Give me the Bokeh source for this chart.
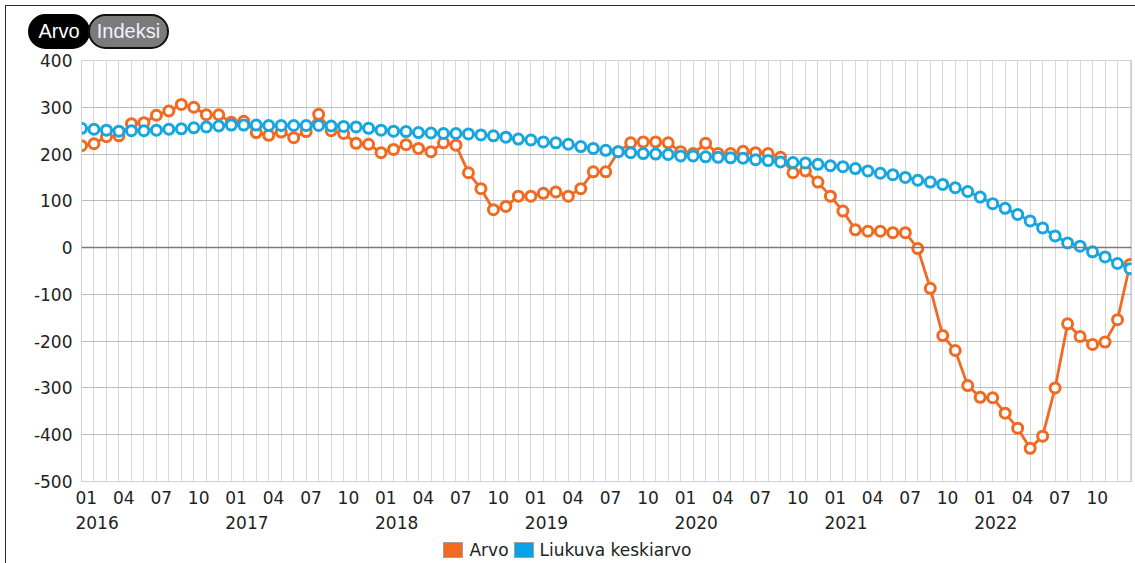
from bokeh.plotting import figure
from bokeh.models import Range1d, FixedTicker, Span, LinearAxis, Div
from bokeh.layouts import column
from bokeh.embed import file_html
from bokeh.resources import INLINE

years = [2016, 2017, 2018, 2019, 2020, 2021, 2022]
month_labels = ["01", "04", "07", "10"]
series_names = ["Arvo", "Liukuva keskiarvo"]

arvo = [218, 222, 237, 239, 265, 267, 283, 292, 306, 300, 284, 284,
        268, 270, 246, 240, 247, 235, 248, 285, 250, 244, 223, 221,
        203, 210, 220, 212, 205, 224, 219, 160, 126, 81, 88, 110,
        110, 116, 119, 110, 126, 162, 162, 205, 224, 226, 226, 224,
        205, 201, 223, 201, 201, 206, 203, 201, 193, 160, 164, 140,
        110, 78, 38, 35, 35, 32, 32, -2, -87, -188, -220, -295,
        -320, -321, -354, -386, -429, -403, -300, -163, -190, -207, -202, -154,
        -36]

liukuva = [255, 253, 251, 249, 250, 250, 251, 253, 254, 256, 258, 260,
           262, 262, 262, 261, 261, 261, 261, 261, 260, 259, 258, 255,
           251, 249, 248, 246, 245, 244, 244, 243, 241, 239, 236, 232,
           230, 226, 224, 221, 216, 212, 208, 205, 203, 201, 200, 199,
           196, 196, 194, 193, 192, 191, 188, 186, 183, 182, 181, 178,
           175, 173, 169, 164, 159, 156, 150, 144, 140, 135, 128, 120,
           108, 94, 84, 71, 57, 42, 25, 10, 3, -9, -20, -34,
           -45]

y_ticks = [-500, -400, -300, -200, -100, 0, 100, 200, 300, 400]

ORANGE = "#f26a22"
BLUE = "#17a7de"
FONT = "DejaVu Sans"
FS = "17px"

x = list(range(len(arvo)))

# whole chart sits inside a thin dark frame starting at (5, 5)
W = 1129

p = figure(width=W, height=486,
           x_range=Range1d(0, 84.12), y_range=Range1d(-500, 400),
           output_backend="svg", toolbar_location=None,
           min_border_left=75, min_border_right=4,
           min_border_top=8, min_border_bottom=57)
p.background_fill_color = "white"
p.border_fill_color = "white"
p.outline_line_color = "#cfcfcf"

# month labels (left-aligned to their month line, so centre shifted right)
MONTH_SHIFT = 0.385
YEAR_SHIFT = 1.25
m_ticks, m_over = [], {}
for t in range(0, len(years) * 12, 3):
    v = t + MONTH_SHIFT
    m_ticks.append(v)
    m_over[v] = month_labels[(t % 12) // 3]
p.xaxis.ticker = FixedTicker(ticks=m_ticks)
p.xaxis.major_label_overrides = m_over
p.xaxis.major_label_text_font = FONT
p.xaxis.major_label_text_font_size = FS
p.xaxis.major_label_text_color = "#222222"
p.xaxis.major_label_standoff = 9
p.xaxis.major_tick_out = 0
p.xaxis.major_tick_in = 0
p.xaxis.axis_line_color = "#cfcfcf"
p.xaxis.major_tick_line_color = None
p.xaxis.minor_tick_line_color = None

# year labels
y_ticks_x, y_over = [], {}
for i, yr in enumerate(years):
    v = i * 12 + YEAR_SHIFT
    y_ticks_x.append(v)
    y_over[v] = str(yr)
year_axis = LinearAxis(ticker=FixedTicker(ticks=y_ticks_x),
                       major_label_overrides=y_over,
                       major_label_text_font=FONT, major_label_text_font_size=FS,
                       major_label_text_color="#222222",
                       major_label_standoff=9, major_tick_out=0, major_tick_in=0,
                       axis_line_color=None, major_tick_line_color=None,
                       minor_tick_line_color=None)
p.add_layout(year_axis, "below")

# y axis (plain hyphen for negatives, as in the original)
p.yaxis.ticker = FixedTicker(ticks=y_ticks)
p.yaxis.major_label_overrides = {v: str(v) for v in y_ticks}
p.yaxis.major_label_text_font = FONT
p.yaxis.major_label_text_font_size = FS
p.yaxis.major_label_text_color = "#222222"
p.yaxis.major_label_standoff = 9
p.yaxis.major_tick_out = 0
p.yaxis.major_tick_in = 0
p.yaxis.axis_line_color = "#cfcfcf"
p.yaxis.major_tick_line_color = None
p.yaxis.minor_tick_line_color = None

# grids
p.xgrid.ticker = FixedTicker(ticks=x)
p.xgrid.grid_line_color = "#d8d8d8"
p.xgrid.grid_line_width = 1
p.ygrid.ticker = FixedTicker(ticks=y_ticks)
p.ygrid.grid_line_color = "#bcbcbc"
p.ygrid.grid_line_width = 1

p.add_layout(Span(location=0, dimension="width", line_color="#7a7a7a", line_width=1.5))

# series
p.line(x, arvo, line_color=ORANGE, line_width=2.8)
p.scatter(x, arvo, size=10, fill_color="white", line_color=ORANGE, line_width=3)
p.line(x, liukuva, line_color=BLUE, line_width=2.8)
p.scatter(x, liukuva, size=10, fill_color="white", line_color=BLUE, line_width=3)

pill = ("position:absolute;top:8px;height:35px;box-sizing:border-box;"
        "border-radius:18px;font-family:'Liberation Sans',Arial,sans-serif;"
        "font-size:20px;line-height:30px;text-align:center;")
buttons = Div(
    text=(f'<div style="position:relative;width:{W}px;height:46px;">'
          f'<span style="{pill}left:22px;width:62px;background:#000;color:#fff;'
          'border:2px solid #000;">Arvo</span>'
          f'<span style="{pill}left:82px;width:81px;background:#7b7b7b;color:#eef4ff;'
          'border:2.5px solid #111;">Indeksi</span></div>'),
    width=W, height=46, margin=(0, 0, 0, 0))

sw = ("display:inline-block;width:20px;height:16px;border:1px solid #a0a0a0;"
      "vertical-align:middle;margin-right:6px;")
legend_div = Div(
    text=(f'<div style="width:{W - 6}px;height:25px;text-align:center;'
          f"font-family:'DejaVu Sans',sans-serif;font-size:17px;color:#222;"
          'line-height:22px;white-space:nowrap;">'
          f'<span style="{sw}background:{ORANGE};"></span>'
          f'<span style="vertical-align:middle;margin-right:5px;">{series_names[0]}</span>'
          f'<span style="{sw}background:#0aa2e6;"></span>'
          f'<span style="vertical-align:middle;">{series_names[1]}</span></div>'),
    width=W, height=25, margin=(0, 0, 0, 0))

layout = column(buttons, p, legend_div, spacing=0, margin=(5, 0, 0, 5),
                styles={"border-left": "1px solid #2a2a2a",
                        "border-top": "1px solid #2a2a2a"})

open("out.html", "w").write(file_html(layout, INLINE))
